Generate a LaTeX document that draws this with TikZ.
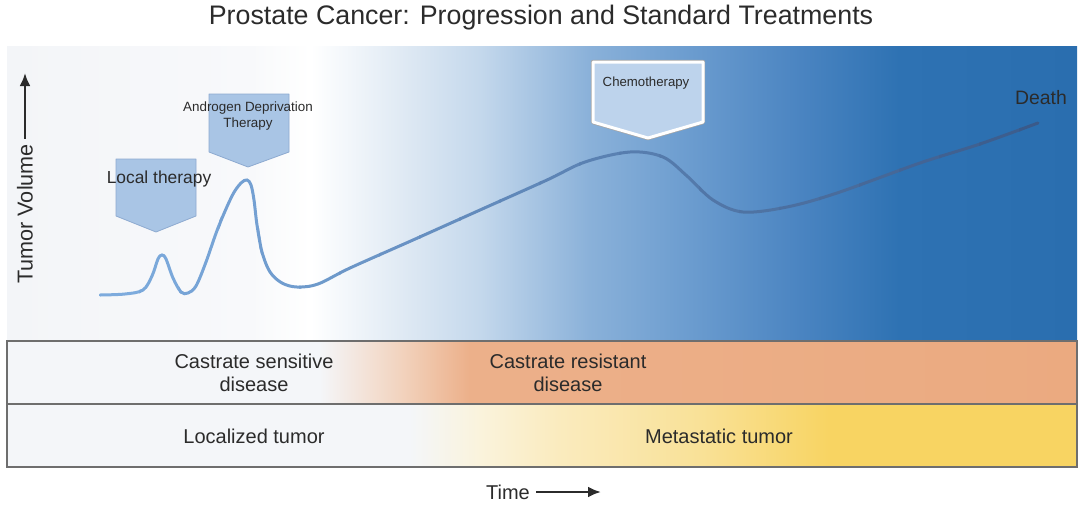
\documentclass[tikz,border=0pt]{standalone}
\usepackage{fontspec}
\setmainfont{Liberation Sans}
\usetikzlibrary{arrows, arrows.meta, positioning}
\definecolor{txtgray}{HTML}{2B2B2B}
\definecolor{bandline}{HTML}{6E6E6E}
\definecolor{curveL}{HTML}{7DABDD}
\definecolor{curveR}{HTML}{3A5A8A}
\definecolor{boxfill}{HTML}{A9C5E5}
\definecolor{boxline}{HTML}{8DAAD0}
\definecolor{chemofill}{HTML}{BDD3EC}
\definecolor{bgA}{HTML}{F3F5F8}
\definecolor{bgB}{HTML}{F8F9FB}
\definecolor{bgC}{HTML}{FFFFFF}
\definecolor{bgD}{HTML}{E0EAF4}
\definecolor{bgE}{HTML}{C4D8EC}
\definecolor{bgF}{HTML}{8AB1D9}
\definecolor{bgG}{HTML}{6E9ED0}
\definecolor{bgH}{HTML}{4A84C1}
\definecolor{bgI}{HTML}{2E72B3}
\definecolor{bgJ}{HTML}{2A6EAF}
\definecolor{light}{HTML}{F4F6F9}
\definecolor{orA}{HTML}{F2D3BE}
\definecolor{orB}{HTML}{ECB08A}
\definecolor{orC}{HTML}{EBAA80}
\definecolor{ylA}{HTML}{FAF3DC}
\definecolor{ylB}{HTML}{FAEBBE}
\definecolor{ylC}{HTML}{F9E197}
\definecolor{ylD}{HTML}{F8D462}
\pgfdeclarehorizontalshading{volumebg}{100bp}{color(0bp)=(bgA); color(25bp)=(bgA);
	color(36.4bp)=(bgB); color(39.2bp)=(bgC); color(43.4bp)=(bgD); color(47.1bp)=(bgE);
	color(52.2bp)=(bgF); color(56.5bp)=(bgG); color(62.1bp)=(bgH); color(66.7bp)=(bgI);
	color(75bp)=(bgJ); color(100bp)=(bgJ)}
\pgfdeclarehorizontalshading{resistband}{100bp}{color(0bp)=(light); color(39.6bp)=(light);
	color(43.4bp)=(orA); color(46.6bp)=(orB); color(75bp)=(orC); color(100bp)=(orC)}
\pgfdeclarehorizontalshading{metaband}{100bp}{color(0bp)=(light); color(43.8bp)=(light);
	color(47.1bp)=(ylA); color(50.8bp)=(ylB); color(57.4bp)=(ylC); color(63.5bp)=(ylD);
	color(100bp)=(ylD)}

\begin{document}
\begin{tikzpicture}[x=0.5pt, y=-0.5pt,
		lbl/.style={text=txtgray, inner sep=1pt, align=center},
		bandtxt/.style={lbl, font=\fontsize{10}{11.5}\selectfont},
		band/.style={draw=bandline, line width=1pt},
		axisarrow/.style={-{Latex[length=6.5pt, width=5.5pt]}, line width=1.4pt, txtgray},
		callout/.style={fill=boxfill, draw=boxline, line width=0.4pt, line join=round},
		curve/.style={line width=1.5pt, line cap=round}]
	\useasboundingbox (0,0) rectangle (1080,504);
	\node [lbl, font=\fontsize{13.4}{16}\selectfont] (title) at (541,18) {Prostate Cancer: Progression and Standard Treatments};
	\shade [shading=volumebg] (7,46) rectangle (1077,341);
	\shadedraw [band, shading=resistband] (7,341) rectangle (1077,404);
	\shadedraw [band, shading=metaband] (7,404) rectangle (1077,467);
	\node [lbl, rotate=90, font=\fontsize{10.8}{13}\selectfont, inner sep=2.5pt] (ylabel) at (25,214) {Tumor Volume};
	\coordinate (ytip) at (25,73);
	\draw [axisarrow] (ylabel.east) -- (ytip);
	\def\tumorcurve{plot[smooth, tension=0.55] coordinates {(100,295) (125,294) (143,290) (152,276) (158,259) (162,255) (166,259) (173,278) (181,292) (188,293) (196,286) (206,262) (218,228) (232,196) (241,183) (247,180) (251,185) (254,200) (257,225) (262,252) (270,272) (282,283) (297,287) (318,284) (350,268) (413,240) (480,210) (547,180) (585,162) (630,152) (663,157) (687,176) (713,200) (743,212) (787,207) (837,193) (920,163) (980,144) (1038,123)}}
	\foreach \i in {0,...,23}{
		\pgfmathsetmacro\mix{100*\i/23}
		\begin{scope}
			\clip (99+40*\i,60) rectangle (141+40*\i,330);
			\draw [curve, curveR!\mix!curveL] \tumorcurve;
		\end{scope}
	}
	\draw [callout] (116,159) -- (196,159) -- (196,216) -- (156,232) -- (116,216) -- cycle;
	\draw [callout] (209,94) -- (289,94) -- (289,152) -- (248,167) -- (209,152) -- cycle;
	\draw [gray!70, line width=2.2pt, line join=round] (593,62) -- (703,62) -- (703,122) -- (648,138) -- (593,122) -- cycle;
	\draw [fill=chemofill, draw=white, line width=1.5pt, line join=round] (593,62) -- (703,62) -- (703,122) -- (648,138) -- (593,122) -- cycle;
	\node [lbl, font=\fontsize{8.7}{10}\selectfont] (localtxt) at (159,179) {Local therapy};
	\node [lbl, font=\fontsize{6.7}{8}\selectfont] (adttxt) at (248,116) {Androgen Deprivation\\Therapy};
	\node [lbl, font=\fontsize{6.6}{8}\selectfont] (chemotxt) at (646,83) {Chemotherapy};
	\node [lbl, font=\fontsize{9.7}{11}\selectfont] (death) at (1041,98) {Death};
	\node [bandtxt] (sens) at (254,373) {Castrate sensitive\\disease};
	\node [bandtxt] (resist) at (568,373) {Castrate resistant\\disease};
	\node [bandtxt] (localized) at (254,436) {Localized tumor};
	\node [bandtxt] (meta) at (719,436) {Metastatic tumor};
	\node [bandtxt, inner sep=3pt] (time) at (508,492) {Time};
	\coordinate (ttip) at (601,492);
	\draw [axisarrow] (time.east) -- (ttip);
\end{tikzpicture}
\end{document}
